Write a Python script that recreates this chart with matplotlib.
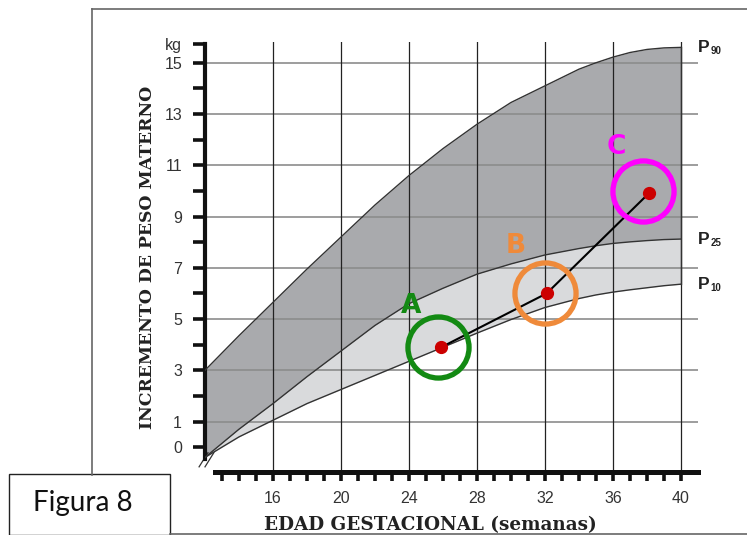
import matplotlib
matplotlib.use("Agg")
import matplotlib.pyplot as plt
from matplotlib.lines import Line2D
from matplotlib.patches import Rectangle

# ---- data ----
weeks = [12, 14, 16, 18, 20, 22, 24, 26, 28, 30, 32, 34, 35, 36, 37, 38, 39, 40]
p90 = [3.0, 4.35, 5.65, 6.95, 8.2, 9.45, 10.6, 11.65, 12.6, 13.45, 14.1, 14.75, 15.0,
       15.22, 15.4, 15.52, 15.58, 15.6]
p25 = [-0.4, 0.7, 1.7, 2.75, 3.75, 4.75, 5.6, 6.2, 6.75, 7.15, 7.5, 7.75, 7.86,
       7.95, 8.01, 8.06, 8.1, 8.12]
p10 = [-0.4, 0.4, 1.05, 1.7, 2.25, 2.8, 3.35, 3.9, 4.45, 4.98, 5.45, 5.8, 5.94,
       6.05, 6.14, 6.22, 6.3, 6.36]

point_labels = ["A", "B", "C"]
point_weeks = [25.9, 32.1, 38.1]
point_kg = [3.9, 6.0, 9.9]
circle_weeks = [25.7, 32.0, 37.75]
circle_kg = [3.9, 6.0, 9.98]
label_weeks = [24.1, 30.3, 36.2]
label_kg = [5.5, 7.85, 11.7]
point_colors = ["#138a13", "#ef8a3a", "#ff00ff"]

xticks_major = [16, 20, 24, 28, 32, 36, 40]
xticks_minor = list(range(13, 41))
yticks_major = [0, 1, 3, 5, 7, 9, 11, 13, 15, 15.75]
ytick_labels = ["0", "1", "3", "5", "7", "9", "11", "13", "15", "kg"]
yticks_minor = [2, 4, 6, 8, 10, 12, 14]
ygrid = [1, 3, 5, 7, 9, 11, 13, 15]
percentile_names = [("P", "90"), ("P", "25"), ("P", "10")]

W, H = 747, 535
fig = plt.figure(figsize=(W / 100, H / 100), dpi=100)
fig.patch.set_facecolor("white")

def fx(px):
    return px / W

def fy(py):
    return 1 - py / H

# outer frame lines and "Figura 8" box
frame_col = "#666666"
fig.add_artist(Line2D([fx(92), 1.0], [fy(9), fy(9)], color=frame_col, lw=1.2))
fig.add_artist(Line2D([fx(92), fx(92)], [fy(9), fy(475)], color=frame_col, lw=1.2))
fig.add_artist(Line2D([fx(170), 1.0], [fy(534), fy(534)], color=frame_col, lw=1.2))
fig.add_artist(Rectangle((fx(9), 0), fx(170) - fx(9), fy(474), fill=False,
                         edgecolor="#222222", lw=1.0))
fig.text(fx(83), fy(503), "Figura 8", ha="center", va="center",
         fontsize=20, family=["Lato", "DejaVu Sans"], fontweight="normal",
         color="#111111")

ax = fig.add_axes([fx(205), fy(472), fx(698) - fx(205), fy(42) - fy(472)])
ax.set_xlim(12, 41)
ax.set_ylim(-0.97, 15.81)
ax.patch.set_alpha(0)

dark = "#a9aaad"
light = "#d9dadc"
ax.fill_between(weeks, p25, p90, color=dark, lw=0, zorder=1)
ax.fill_between(weeks, p10, p25, color=light, lw=0, zorder=1)

# grid lines (above fills)
for g in ygrid:
    ax.axhline(g, color="#8c8c8c", lw=1.2, zorder=2)
for g in xticks_major:
    ax.axvline(g, color="#222222", lw=0.9, zorder=2)

# curves
for s in (p90, p25, p10):
    ax.plot(weeks, s, color="#333333", lw=1.0, zorder=3)
ax.plot([weeks[-1], weeks[-1]], [p10[-1], p90[-1]], color="#333333", lw=1.0, zorder=3)

# connecting path and points
ax.plot(point_weeks, point_kg, color="black", lw=1.5, zorder=4)
ax.plot(point_weeks, point_kg, ls="none", marker="o", markersize=8.5,
        color="#cc0000", zorder=5)
for cw, ck, c in zip(circle_weeks, circle_kg, point_colors):
    ax.plot([cw], [ck], ls="none", marker="o", markersize=44, mfc="none",
            mec=c, mew=3.8, zorder=6)
for lw_, lk, lab, c in zip(label_weeks, label_kg, point_labels, point_colors):
    ax.text(lw_, lk, lab, color=c, fontsize=19, fontweight="bold",
            ha="center", va="center", family=["DejaVu Sans"], zorder=7)

# percentile labels
for (p, sub), s in zip(percentile_names, (p90, p25, p10)):
    ax.annotate(p, xy=(41.0, s[-1]), xycoords="data", ha="left", va="center",
                fontsize=12.5, fontweight="bold", family=["Liberation Sans"],
                color="#222222", annotation_clip=False)
    ax.annotate(sub, xy=(41.0, s[-1]), xycoords="data", xytext=(8.8, -2.5),
                textcoords="offset points", ha="left", va="center",
                fontsize=7, fontweight="bold", family=["Liberation Sans"],
                color="#222222", annotation_clip=False)

# spines
for side in ("top", "right"):
    ax.spines[side].set_visible(False)
ax.spines["left"].set_linewidth(3.0)
ax.spines["left"].set_bounds(-0.46, 15.75)
ax.spines["left"].set_color("#111111")
ax.spines["bottom"].set_linewidth(3.6)
ax.spines["bottom"].set_bounds(12.6, 41)
ax.spines["bottom"].set_color("#111111")

ax.set_xticks(xticks_major)
ax.set_xticks(xticks_minor, minor=True)
ax.set_xticklabels([str(v) for v in xticks_major])
ax.set_yticks(yticks_major)
ax.set_yticklabels(ytick_labels)
ax.set_yticks(yticks_minor, minor=True)

ax.tick_params(axis="x", which="both", direction="out", length=6.5, width=2.6,
               color="#111111", pad=7, labelsize=11.5, labelcolor="#333333")
ax.tick_params(axis="y", which="both", direction="out", length=9, width=2.6,
               color="#111111", pad=7.5, labelsize=11.5, labelcolor="#333333")
for lab in ax.get_xticklabels() + ax.get_yticklabels():
    lab.set_family(["Liberation Sans"])

# axis break marks
for dx in (0.0, 0.012):
    ax.plot([-0.012 + dx, 0.006 + dx], [0.012, 0.045], transform=ax.transAxes,
            color="#333333", lw=0.9, clip_on=False)

# axis titles
fig.text(fx(430), fy(525), "EDAD GESTACIONAL (semanas)", ha="center", va="center",
         fontsize=13.2, fontweight="bold", family=["DejaVu Serif"], color="#222222")
fig.text(fx(147), fy(257), "INCREMENTO DE PESO MATERNO", ha="center", va="center",
         rotation=90, fontsize=12.4, fontweight="bold", family=["DejaVu Serif"],
         color="#222222")

fig.savefig("out.png", dpi=100)
